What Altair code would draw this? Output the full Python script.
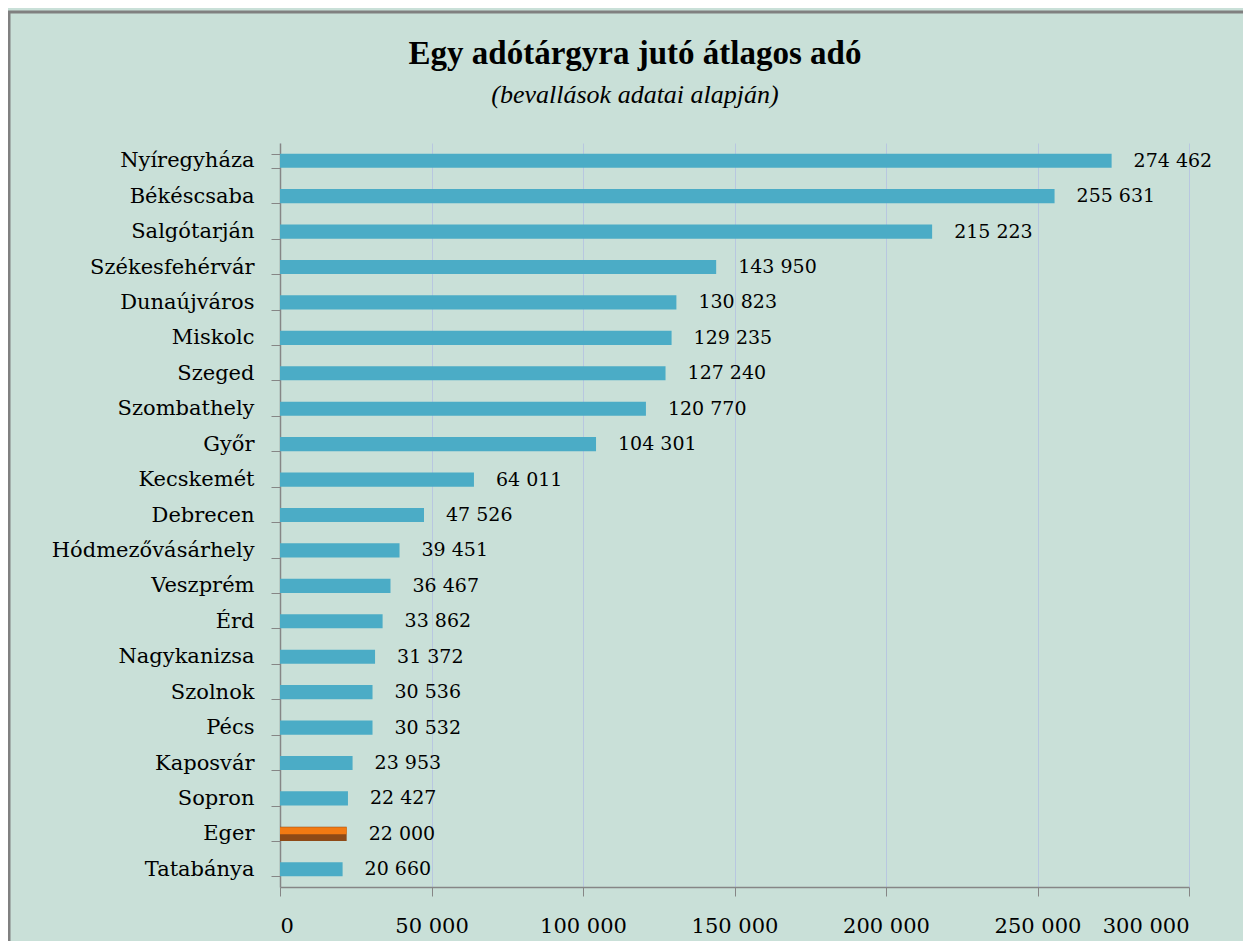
import altair as alt
import pandas as pd

cities = ["Nyíregyháza", "Békéscsaba", "Salgótarján", "Székesfehérvár", "Dunaújváros",
          "Miskolc", "Szeged", "Szombathely", "Győr", "Kecskemét", "Debrecen\u00a0",
          "Hódmezővásárhely\u00a0", "Veszprém", "Érd\u00a0", "Nagykanizsa", "Szolnok", "Pécs",
          "Kaposvár", "Sopron", "Eger", "Tatabánya"]
values = [274462, 255631, 215223, 143950, 130823, 129235, 127240, 120770, 104301,
          64011, 47526, 39451, 36467, 33862, 31372, 30536, 30532, 23953, 22427,
          22000, 20660]
x_ticks = [0, 50000, 100000, 150000, 200000, 250000, 300000]
highlight = "Eger"
title_text = "Egy adótárgyra jutó átlagos adó"
subtitle_text = "(bevallások adatai alapján)"

df = pd.DataFrame({"city": cities, "value": values})

FONT = "DejaVu Serif"
TFONT = "Liberation Serif"
BG = "#C9E0D8"

y_enc = alt.Y("city:N", sort=cities, title=None,
              scale=alt.Scale(paddingInner=0.6, paddingOuter=0.3),
              axis=alt.Axis(tickBand="extent", tickSize=9, tickColor="#868686",
                            domainColor="#868686", domainWidth=1.5,
                            labelFont=FONT, labelFontSize=21, labelColor="#000000",
                            labelPadding=17, labelLimit=400))
x_enc = alt.X("value:Q", title=None,
              scale=alt.Scale(domain=[0, 300000], nice=False),
              axis=alt.Axis(values=x_ticks, tickSize=9, tickColor="#868686",
                            domainColor="#868686", domainWidth=1.5,
                            grid=True, gridColor="#B8C7E0", gridWidth=1,
                            labelFont=FONT, labelFontSize=21, labelColor="#000000",
                            labelPadding=19,
                            labelExpr="replace(datum.label, ',', ' ')"))

base = alt.Chart(df)

bars = base.mark_bar().encode(
    y=y_enc, x=x_enc,
    color=alt.condition(alt.datum.city == highlight, alt.value("#8E4A16"), alt.value("#4BACC6")),
)

eger_top = base.transform_filter(alt.datum.city == highlight).mark_bar(
    size=7, yOffset=-3, color="#F27A12"
).encode(y=alt.Y("city:N", sort=cities), x="value:Q")

labels = base.transform_calculate(
    lab="replace(format(datum.value, ','), ',', ' ')"
).mark_text(align="left", baseline="middle", dx=22, font=FONT, fontSize=19,
            color="#000000").encode(
    y=alt.Y("city:N", sort=cities), x="value:Q", text="lab:N")

tdf = pd.DataFrame({"t": [title_text], "s": [subtitle_text]})
title_mark = alt.Chart(tdf).mark_text(
    align="center", baseline="alphabetic", font=TFONT, fontSize=33,
    fontWeight="bold", color="#000000"
).encode(x=alt.value(355), y=alt.value(-79), text="t:N")
subtitle_mark = alt.Chart(tdf).mark_text(
    align="center", baseline="alphabetic", font=TFONT, fontSize=26,
    fontStyle="italic", color="#000000"
).encode(x=alt.value(355), y=alt.value(-40), text="s:N")

border = alt.Chart(pd.DataFrame({"a": [0]})).mark_rect(
    fillOpacity=0, stroke="#808080", strokeWidth=3
).encode(x=alt.value(-271), x2=alt.value(990), y=alt.value(-131), y2=alt.value(820))

chart = alt.layer(bars, eger_top, labels, title_mark, subtitle_mark, border).properties(
    width=909, height=744,
    autosize=alt.AutoSizeParams(type="none"),
    padding={"left": 272, "top": 135, "right": 54, "bottom": 54},
    background=BG,
).configure_view(stroke=None)

chart.save("out.html", embed_options={"renderer": "svg", "actions": False})
